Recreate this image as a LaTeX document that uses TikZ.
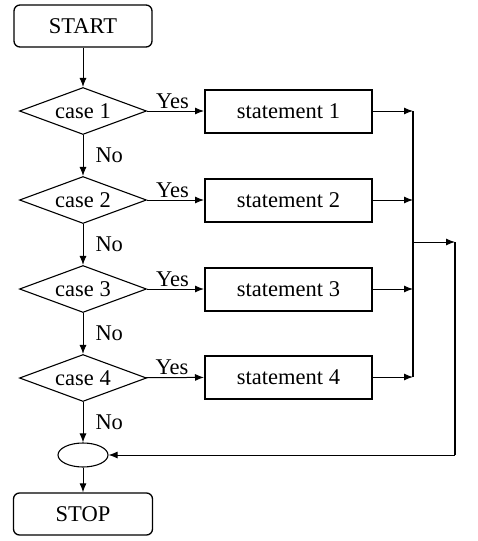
\documentclass[tikz,border=0pt]{standalone}
\usepackage{fontspec}
\setmainfont{Liberation Serif}
\usepackage{tikz}
\usetikzlibrary{shapes.geometric,arrows.meta}
\tikzset{terminal/.style={draw, rectangle, rounded corners=6pt, line width=1.3pt, minimum width=138pt, minimum height=42pt, inner sep=0pt},
  decision/.style={draw, diamond, aspect=2.7, line width=1.1pt, minimum width=127pt, minimum height=47pt, inner sep=0pt},
  stmtbox/.style={draw, rectangle, line width=2pt, minimum width=167pt, minimum height=43pt, inner sep=0pt},
  joint/.style={draw, ellipse, line width=1.1pt, minimum width=50pt, minimum height=24pt, inner sep=0pt},
  flow/.style={-{Latex[length=9pt,width=7pt]}, line width=1pt},
  bus/.style={line width=2pt}}

\begin{document}
\begin{tikzpicture}[x=1pt, y=-1pt, font=\fontsize{22.5}{27}\selectfont]
      \useasboundingbox (0,0) rectangle (478,541);
      \def\col{83}
      \node [terminal] (start) at (\col,26) {START};
      \node [decision] (c1) at (\col,111) {case 1};
      \node [decision] (c2) at (\col,200) {case 2};
      \node [decision] (c3) at (\col,289) {case 3};
      \node [decision] (c4) at (\col,378) {case 4};
      \node [stmtbox] (s1) at (288.5,111) {statement 1};
      \node [stmtbox] (s2) at (288.5,200) {statement 2};
      \node [stmtbox] (s3) at (288.5,289) {statement 3};
      \node [stmtbox] (s4) at (288.5,377) {statement 4};
      \node [joint] (join) at (\col,455) {};
      \node [terminal, minimum width=139pt] (stop) at (\col,514) {STOP};
      \coordinate (bustop) at (413,111);
      \coordinate (busbot) at (413,377);
      \coordinate (tap) at (413,242);
      \coordinate (rtop) at (455,242);
      \coordinate (rbot) at (455,455);
      \draw [flow] (start) -- (c1);
      \draw [flow] (c1) -- node[right, inner sep=12pt] {No} (c2);
      \draw [flow] (c2) -- node[right, inner sep=12pt] {No} (c3);
      \draw [flow] (c3) -- node[right, inner sep=12pt] {No} (c4);
      \draw [flow] (c4) -- node[right, inner sep=12pt] {No} (join);
      \draw [flow] (join) -- (stop);
      \foreach \i in {1,...,4} {
        \draw [flow] (c\i) -- node[above, inner sep=2pt, xshift=-3pt] {Yes} (s\i);
        \draw [flow] (s\i) -- (s\i -| bustop);
      }
      \draw [bus] (bustop) -- (busbot);
      \draw [flow] (tap) -- (rtop);
      \draw [bus] (rtop) -- (rbot);
      \draw [flow] (rbot) -- (join);
    \end{tikzpicture}
\end{document}
